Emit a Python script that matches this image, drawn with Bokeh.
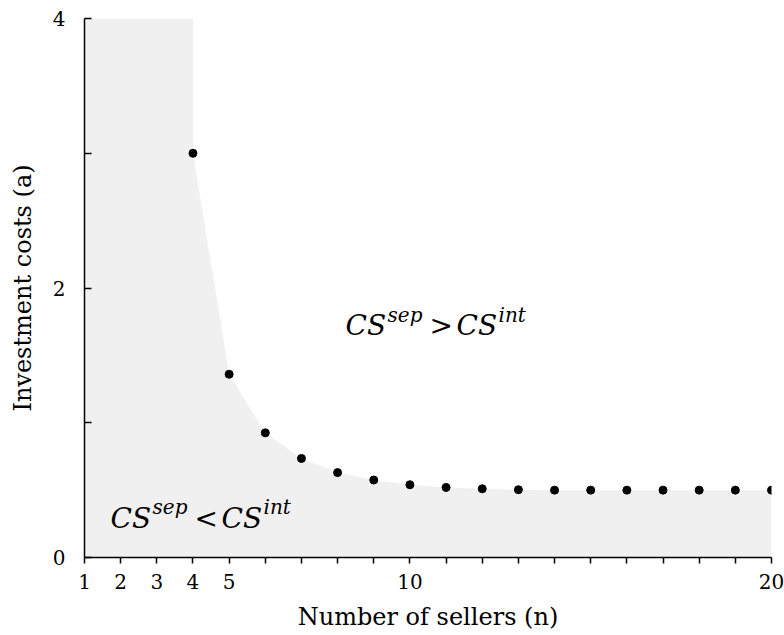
from bokeh.plotting import figure
from bokeh.models import FixedTicker, Range1d, Label
from bokeh.embed import file_html
from bokeh.resources import INLINE

# ---- data ----
n_sellers = [4, 5, 6, 7, 8, 9, 10, 11, 12, 13, 14, 15, 16, 17, 18, 19, 20]
invest_a = [3.0, 1.36, 0.925, 0.735, 0.63, 0.575, 0.54, 0.52, 0.51, 0.503, 0.5,
            0.5, 0.5, 0.5, 0.5, 0.5, 0.5]
x_ticks = list(range(1, 21))
x_labels = {1: "1", 2: "2", 3: "3", 4: "4", 5: "5", 10: "10", 20: "20"}
y_ticks = [0, 1, 2, 3, 4]
y_labels = {0: "0", 2: "2", 4: "4"}
x_min, x_max = 1, 20
y_min, y_max = 0, 4

FONT = "DejaVu Serif"

p = figure(width=784, height=635, output_backend="svg", toolbar_location=None,
           x_range=Range1d(x_min, x_max), y_range=Range1d(y_min, y_max),
           min_border_left=84, min_border_right=13, min_border_top=18,
           min_border_bottom=78)
p.outline_line_color = None
p.grid.visible = False
p.background_fill_color = "white"
p.border_fill_color = "white"

# shaded region (CS_sep < CS_int)
patch_x = [x_min, n_sellers[0]] + n_sellers + [x_max, x_min]
patch_y = [y_max, y_max] + invest_a + [y_min, y_min]
p.patch(patch_x, patch_y, fill_color="#f0f0f0", line_color=None)

p.scatter(n_sellers, invest_a, size=8, color="black")

# axes
p.xaxis.ticker = FixedTicker(ticks=x_ticks, minor_ticks=[])
p.xaxis.major_label_overrides = {t: x_labels.get(t, "") for t in x_ticks}
p.yaxis.ticker = FixedTicker(ticks=y_ticks, minor_ticks=[])
p.yaxis.major_label_overrides = {t: y_labels.get(t, "") for t in y_ticks}

for ax in (p.xaxis[0], p.yaxis[0]):
    ax.axis_line_color = "black"
    ax.axis_line_width = 1.5
    ax.major_tick_line_color = "black"
    ax.major_tick_line_width = 1.5
    ax.minor_tick_line_color = None
    ax.major_label_text_font = FONT
    ax.major_label_text_font_size = "20px"
    ax.major_label_text_color = "black"
    ax.axis_label_text_font = FONT
    ax.axis_label_text_font_size = "24px"
    ax.axis_label_text_font_style = "normal"
    ax.axis_label_text_color = "black"

p.xaxis.major_tick_in = 0
p.xaxis.major_tick_out = 6
p.xaxis.major_label_standoff = 10
p.xaxis.axis_label = "Number of sellers (n)"
p.xaxis.axis_label_standoff = 11

p.yaxis.major_tick_in = 7
p.yaxis.major_tick_out = 0
p.yaxis.major_label_standoff = 19
p.yaxis.axis_label = "Investment costs (a)"
p.yaxis.axis_label_standoff = 13


def add_relation(x, y, sym):
    pieces = [("CS", 0, 0, "28px", "italic"),
              ("sep", 42, 11, "20px", "italic"),
              (sym, 84, 0, "28px", "normal"),
              ("CS", 111, 0, "28px", "italic"),
              ("int", 153, 11, "20px", "italic")]
    for txt, dx, dy, fs, st in pieces:
        p.add_layout(Label(x=x, y=y, x_offset=dx, y_offset=dy, text=txt,
                           text_font=FONT, text_font_size=fs,
                           text_font_style=st, text_color="black",
                           text_baseline="alphabetic", text_align="left"))


add_relation(8.22, 1.72, ">")
add_relation(1.72, 0.29, "<")

open("out.html", "w").write(file_html(p, INLINE))
